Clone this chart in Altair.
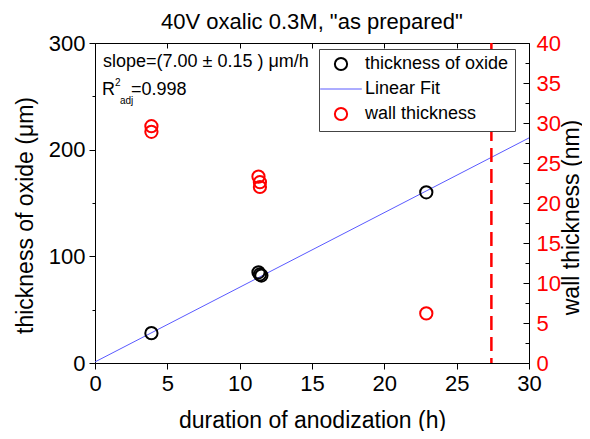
import altair as alt
import pandas as pd

FONT = "Liberation Sans"

title_text = '40V oxalic 0.3M, "as prepared"'
x_title = "duration of anodization (h)"
left_title = "thickness of oxide (\u03bcm)"
right_title = "wall  thickness (nm)"
slope_text = "slope=(7.00 \u00b1 0.15 ) \u03bcm/h"
r_text = "R"
r_sup = "2"
r_sub = "adj"
r_val = "=0.998"

series_names = ["thickness of oxide", "Linear Fit", "wall thickness"]
series_colors = ["#000000", "#5a5aff", "#ff0000"]
series_shapes = ["circle", "M-3.4,0L3.4,0", "circle"]
series_widths = [2, 1, 2]

oxide_hours = [3.9, 11.3, 11.4, 11.5, 22.9]
oxide_um = [28, 85, 83, 82, 160]
wall_hours = [3.9, 3.9, 11.3, 11.4, 11.4, 22.9]
wall_nm = [29.6, 28.9, 23.3, 22.6, 22.0, 6.2]
fit_hours = [0, 30]
fit_um = [1, 211]
marker_hours = [27.4]

x_ticks = [0, 2.5, 5, 7.5, 10, 12.5, 15, 17.5, 20, 22.5, 25, 27.5, 30]
left_ticks = [0, 50, 100, 150, 200, 250, 300]
right_ticks = [0, 2.5, 5, 7.5, 10, 12.5, 15, 17.5, 20, 22.5, 25, 27.5,
               30, 32.5, 35, 37.5, 40]

oxide_df = pd.DataFrame({"h": oxide_hours, "v": oxide_um, "s": series_names[0]})
wall_df = pd.DataFrame({"h": wall_hours, "v": wall_nm, "s": series_names[2]})
fit_df = pd.DataFrame({"h": fit_hours, "v": fit_um})
marker_df = pd.DataFrame({"h": marker_hours})
one_df = pd.DataFrame({"a": [0]})

x_scale = alt.Scale(domain=[0, 30], nice=False, zero=False)

common_axis = dict(
    grid=False, domainColor="black", tickColor="black", tickWidth=1,
    labelFont=FONT, titleFont=FONT, labelFontSize=22, titleFontSize=23,
    titleFontWeight="normal", labelColor="black", titleColor="black",
    labelFlush=False, labelOverlap=False,
)

x_axis_bottom = alt.Axis(
    values=x_ticks, title=x_title, orient="bottom",
    labelExpr="datum.value % 5 === 0 ? datum.label : ''",
    tickSize={"condition": {"test": "datum.value % 5 === 0", "value": 6}, "value": 4},
    labelPadding=4, titleX=217, titleY=57, titleAlign="center", titleBaseline="middle",
    **common_axis,
)
x_axis_top = alt.Axis(
    values=x_ticks, title=None, orient="top", labels=False,
    tickSize={"condition": {"test": "datum.value % 5 === 0", "value": -5}, "value": -4},
    domain=True, domainColor="black", tickColor="black", grid=False,
)
left_axis = alt.Axis(
    values=left_ticks, title=left_title, orient="left",
    labelExpr="datum.value % 100 === 0 ? datum.label : ''",
    tickSize={"condition": {"test": "datum.value % 100 === 0", "value": 6}, "value": 3},
    labelPadding=4, titleAngle=270, titleX=-70, titleY=172,
    titleAlign="center", titleBaseline="middle",
    **common_axis,
)
right_common = dict(common_axis)
right_common.update(labelColor="#ff0000", titleColor="black")
right_axis = alt.Axis(
    values=right_ticks, title=right_title, orient="right", titleAngle=270,
    labelExpr="datum.value % 5 === 0 ? datum.label : ''",
    tickSize={"condition": {"test": "datum.value % 5 === 0", "value": -6}, "value": -4},
    labelPadding=13, titleX=42, titleY=174, titleAlign="center", titleBaseline="middle",
    **right_common,
)

legend = alt.Legend(
    title=None, orient="none", legendX=224, legendY=6,
    fillColor="white", strokeColor="#444444", padding=6,
    labelFont=FONT, labelFontSize=18, labelColor="black",
    symbolSize=150, rowPadding=5, labelOffset=15, symbolOffset=7,
    symbolFillColor="transparent", symbolOpacity=1,
)
color_enc = alt.Color("s:N", scale=alt.Scale(domain=series_names, range=series_colors), legend=legend)
shape_enc = alt.Shape("s:N", scale=alt.Scale(domain=series_names, range=series_shapes), legend=legend)
width_enc = alt.StrokeWidth("s:N", scale=alt.Scale(type="ordinal", domain=series_names, range=series_widths), legend=legend)

fit = alt.Chart(fit_df).mark_line(color=series_colors[1], strokeWidth=1).encode(
    x=alt.X("h:Q", scale=x_scale, axis=x_axis_bottom),
    y=alt.Y("v:Q", scale=alt.Scale(domain=[0, 300], nice=False), axis=left_axis),
)
oxide = alt.Chart(oxide_df).mark_point(filled=False, size=150, opacity=1).encode(
    x=alt.X("h:Q", scale=x_scale),
    y=alt.Y("v:Q"),
    color=color_enc, shape=shape_enc, strokeWidth=width_enc,
)

def txt(s, x, y, size, baseline="alphabetic"):
    return alt.Chart(one_df).mark_text(
        text=s, font=FONT, fontSize=size, align="left", baseline=baseline, color="black"
    ).encode(x=alt.value(x), y=alt.value(y))

annots = [
    txt(slope_text, 8, 24, 18),
    txt(r_text, 7, 52, 18),
    txt(r_sup, 20, 43, 10),
    txt(r_sub, 25, 61, 10),
    txt(r_val, 36, 52, 18),
]

left_group = alt.layer(fit, oxide, *annots)

wall = alt.Chart(wall_df).mark_point(filled=False, size=150, opacity=1).encode(
    x=alt.X("h:Q", scale=x_scale, axis=x_axis_top),
    y=alt.Y("v:Q", scale=alt.Scale(domain=[0, 40], nice=False), axis=right_axis),
    color=color_enc, shape=shape_enc, strokeWidth=width_enc,
)
marker = alt.Chart(marker_df).mark_rule(color="#ff0000", strokeWidth=2.5, strokeDash=[14, 7]).encode(
    x=alt.X("h:Q", scale=x_scale),
)
right_group = alt.layer(marker, wall)

chart = alt.layer(left_group, right_group).resolve_scale(
    y="independent"
).resolve_axis(
    x="independent"
).properties(
    width=434, height=320,
    title=alt.Title(title_text, font=FONT, fontSize=22, fontWeight="normal",
                    color="black", offset=10, dy=12, anchor="middle"),
    autosize=alt.AutoSizeParams(type="none"),
    padding={"left": 87, "top": 35, "right": 53, "bottom": 68},
).configure_view(
    stroke="black", strokeWidth=1
).configure(
    background="white"
)

chart.save("out.html", embed_options={"renderer": "svg", "actions": False})
